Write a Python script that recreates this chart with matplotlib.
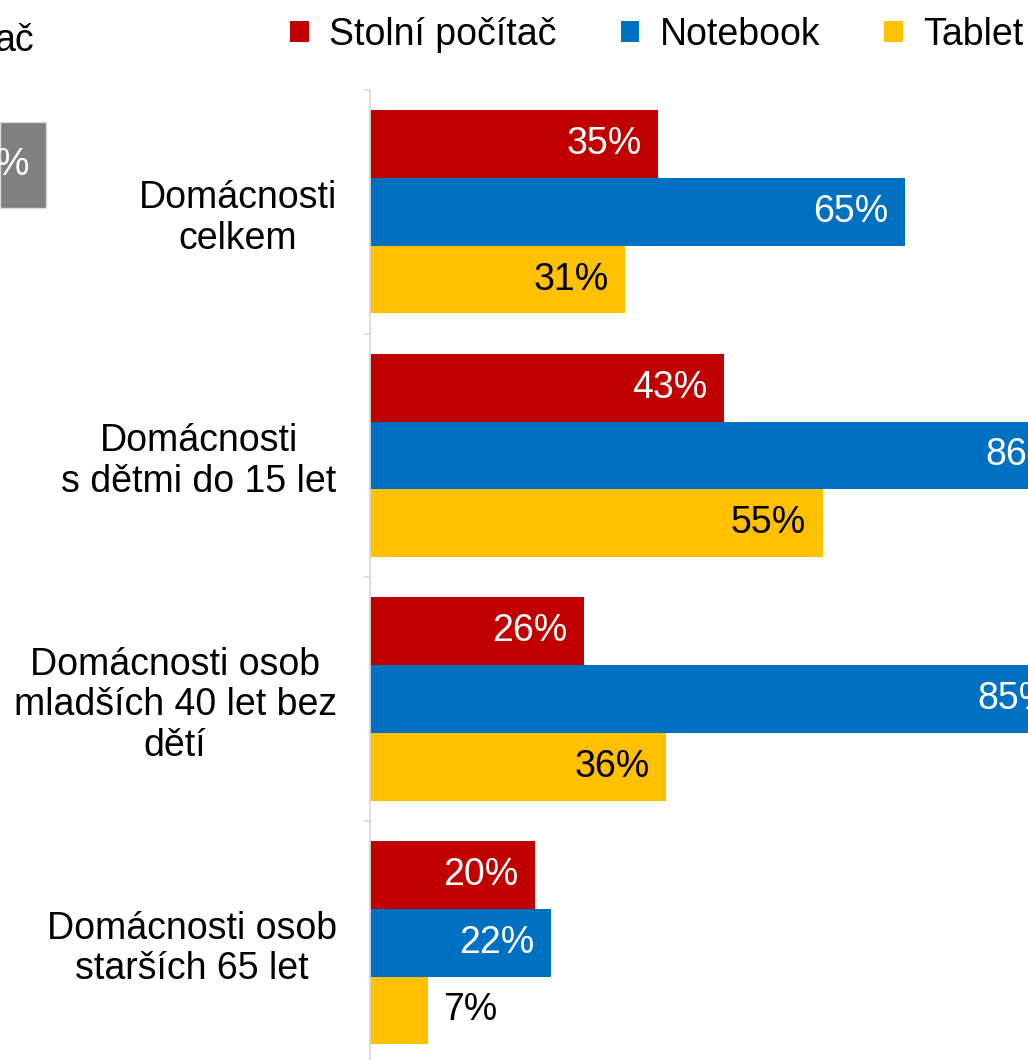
import matplotlib
matplotlib.use("Agg")
import matplotlib.pyplot as plt
from matplotlib.patches import Patch, Rectangle
from matplotlib.transforms import ScaledTranslation
import numpy as np

plt.rcParams['font.family'] = ['Liberation Sans', 'DejaVu Sans']

categories = ["Domácnosti\ncelkem",
              "Domácnosti\ns dětmi do 15 let",
              "Domácnosti osob\nmladších 40 let bez\ndětí",
              "Domácnosti osob\nstarších 65 let"]
series_names = ["Stolní počítač", "Notebook", "Tablet"]
stolni = [35, 43, 26, 20]
notebook = [65, 86, 85, 22]
tablet = [31, 55, 36, 7]
colors = ["#C00000", "#0070C0", "#FFC000"]
label_colors = ["white", "white", "black"]

W, H = 1028, 1060
fig = plt.figure(figsize=(W / 100, H / 100), dpi=100)
ax = fig.add_axes([370 / W, -4.5 / H, 658 / W, 974.5 / H])

FS = 27
bar_h = 0.278
y = np.arange(len(categories))
series = [stolni, notebook, tablet]
offsets = [-bar_h, 0, bar_h]
for vals, off, col, lc, name in zip(series, offsets, colors, label_colors, series_names):
    ax.barh(y + off, vals, height=bar_h, color=col, linewidth=0, label=name)
    for yi, v in zip(y, vals):
        if v < 10:
            ax.annotate(f"{v}%", xy=(v, yi + off), xytext=(11.5, 0), textcoords="offset points",
                        ha="left", va="center", fontsize=FS, color="black", annotation_clip=False)
        else:
            ax.annotate(f"{v}%", xy=(v, yi + off), xytext=(-12, 0), textcoords="offset points",
                        ha="right", va="center", fontsize=FS, color=lc, annotation_clip=False)

ax.set_xlim(0, 658 / 8.23)
ax.set_ylim(3.5, -0.5)
ax.set_xticks([])
ax.set_yticks(y)
ax.set_yticklabels(categories, fontsize=FS, linespacing=1.17)
shift = ScaledTranslation(0, 0.04, fig.dpi_scale_trans)
for lab in ax.get_yticklabels():
    lab.set_multialignment("center")
    lab.set_transform(lab.get_transform() + shift)
ax.tick_params(axis="y", which="major", length=0, pad=24)
ax.set_yticks(np.arange(-0.5, 4.0, 1.0), minor=True)
ax.tick_params(axis="y", which="minor", length=4, width=1.2, color="#D9D9D9", direction="out")
for s in ["top", "right", "bottom"]:
    ax.spines[s].set_visible(False)
ax.spines["left"].set_color("#D9D9D9")
ax.spines["left"].set_linewidth(1.3)

handles = [Patch(facecolor=c, edgecolor="none") for c in colors]
fig.legend(handles, series_names, loc="center left", bbox_to_anchor=(290 / W, 1 - 35 / H),
           ncol=3, frameon=False, fontsize=FS, handlelength=0.5, handleheight=0.5,
           handletextpad=0.55, columnspacing=1.7, borderpad=0, borderaxespad=0)

# fragments of a neighbouring element cut off at the left edge
fig.text(34 / W, 1 - 41 / H, "ač", ha="right", va="center", fontsize=FS, color="black")
fig.patches.append(Rectangle((0, 1 - 208 / H), 46 / W, 86 / H, transform=fig.transFigure,
                             facecolor="#808080", edgecolor="#D9D9D9", linewidth=1))
fig.text(29 / W, 1 - 165 / H, "%", ha="right", va="center", fontsize=FS, color="white")

fig.savefig("out.png", dpi=100)
